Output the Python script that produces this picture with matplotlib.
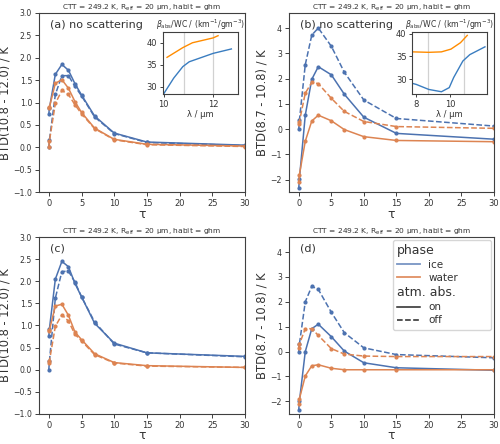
import matplotlib
matplotlib.use("Agg")
import matplotlib.pyplot as plt
from matplotlib.lines import Line2D

# optical depth grids
tau_ac = [0, 0.1, 1, 2, 3, 4, 5, 7, 10, 15, 30]
tau_bd = [0, 0.1, 1, 2, 3, 5, 7, 10, 15, 30]

# (a) BTD(10.8 - 12.0), no scattering
a_ice_on = [0.75, 0.88, 1.63, 1.85, 1.72, 1.42, 1.17, 0.70, 0.32, 0.12, 0.05]
a_ice_off = [0.0, 0.17, 1.18, 1.60, 1.60, 1.36, 1.15, 0.68, 0.31, 0.11, 0.04]
a_wat_on = [0.87, 0.90, 1.43, 1.51, 1.32, 1.02, 0.78, 0.43, 0.18, 0.07, 0.03]
a_wat_off = [0.0, 0.15, 0.98, 1.27, 1.18, 0.95, 0.75, 0.42, 0.17, 0.06, 0.02]

# (b) BTD(8.7 - 10.8), no scattering
b_ice_on = [-2.33, -1.97, 0.55, 1.97, 2.47, 2.15, 1.38, 0.47, -0.17, -0.40]
b_ice_off = [0.0, 0.35, 2.55, 3.72, 4.00, 3.28, 2.25, 1.15, 0.42, 0.12]
b_wat_on = [-2.10, -1.80, -0.48, 0.32, 0.55, 0.33, -0.02, -0.30, -0.45, -0.50]
b_wat_off = [0.20, 0.30, 1.42, 1.85, 1.80, 1.22, 0.70, 0.30, 0.10, 0.03]

# (c) BTD(10.8 - 12.0), with scattering
c_ice_on = [0.75, 0.93, 2.05, 2.45, 2.33, 1.95, 1.65, 1.05, 0.60, 0.38, 0.30]
c_ice_off = [0.0, 0.20, 1.62, 2.22, 2.23, 1.98, 1.65, 1.08, 0.58, 0.38, 0.29]
c_wat_on = [0.88, 0.90, 1.44, 1.48, 1.23, 0.85, 0.68, 0.36, 0.16, 0.09, 0.05]
c_wat_off = [0.15, 0.20, 0.98, 1.24, 1.10, 0.80, 0.65, 0.34, 0.15, 0.08, 0.05]

# (d) BTD(8.7 - 10.8), with scattering
d_ice_on = [-2.33, -2.00, 0.0, 0.92, 1.10, 0.60, 0.02, -0.45, -0.65, -0.75]
d_ice_off = [0.0, 0.30, 2.00, 2.62, 2.50, 1.58, 0.76, 0.15, -0.12, -0.25]
d_wat_on = [-2.10, -1.90, -0.98, -0.57, -0.53, -0.67, -0.73, -0.73, -0.73, -0.73]
d_wat_off = [0.15, 0.30, 0.92, 0.92, 0.65, 0.12, -0.10, -0.18, -0.20, -0.20]

# insets: absorption coefficient per water content
ia_ice_wl = [10.0, 10.4, 10.77, 11.03, 12.0, 12.74]
ia_ice_val = [28.5, 32.0, 34.6, 35.7, 37.6, 38.6]
ia_wat_wl = [10.13, 10.77, 11.16, 12.0, 12.2]
ia_wat_val = [36.7, 38.9, 40.0, 41.1, 41.6]

ib_ice_wl = [7.8, 8.0, 8.74, 9.48, 9.94, 10.2, 10.74, 11.15, 12.04]
ib_ice_val = [29.1, 28.9, 27.8, 27.3, 28.2, 30.4, 34.0, 35.4, 37.1]
ib_wat_wl = [7.8, 8.74, 9.48, 10.04, 10.6, 11.0]
ib_wat_val = [36.0, 35.9, 36.0, 36.6, 38.0, 39.6]

title = "CTT = 249.2 K, R$_{\\mathrm{eff}}$ = 20 μm, habit = ghm"
c_ice = "#4c72b0"
c_wat = "#dd8452"
txt_col = "0.2"

plt.rcParams.update({
    "font.family": "DejaVu Sans",
    "axes.edgecolor": "0.25",
    "axes.linewidth": 0.8,
    "xtick.color": "0.25",
    "ytick.color": "0.25",
    "xtick.labelcolor": txt_col,
    "ytick.labelcolor": txt_col,
    "xtick.labelsize": 6,
    "ytick.labelsize": 5.6,
    "xtick.major.size": 3,
    "ytick.major.size": 3,
    "xtick.major.pad": 2,
    "ytick.major.pad": 2,
    "xtick.major.width": 0.7,
    "ytick.major.width": 0.7,
})

fig = plt.figure(figsize=(5, 4.44), dpi=100)
pos = {
    "a": [0.078, 0.567, 0.412, 0.404],
    "b": [0.578, 0.567, 0.410, 0.404],
    "c": [0.078, 0.068, 0.412, 0.398],
    "d": [0.578, 0.068, 0.410, 0.398],
}


def draw_panel(ax, tau, ice_on, ice_off, wat_on, wat_off):
    kw = dict(marker=".", markersize=4, lw=1.1)
    ax.plot(tau, ice_on, color=c_ice, ls="-", **kw)
    ax.plot(tau, ice_off, color=c_ice, ls="--", **kw)
    ax.plot(tau, wat_on, color=c_wat, ls="-", **kw)
    ax.plot(tau, wat_off, color=c_wat, ls="--", **kw)
    ax.set_xlim(-1.5, 30)
    ax.set_xticks([0, 5, 10, 15, 20, 25, 30])
    ax.set_xlabel("τ", fontsize=9, color=txt_col, labelpad=-0.5)
    ax.set_title(title, fontsize=5.4, color=txt_col, pad=1.5)


ax_a = fig.add_axes(pos["a"])
draw_panel(ax_a, tau_ac, a_ice_on, a_ice_off, a_wat_on, a_wat_off)
ax_b = fig.add_axes(pos["b"])
draw_panel(ax_b, tau_bd, b_ice_on, b_ice_off, b_wat_on, b_wat_off)
ax_c = fig.add_axes(pos["c"])
draw_panel(ax_c, tau_ac, c_ice_on, c_ice_off, c_wat_on, c_wat_off)
ax_d = fig.add_axes(pos["d"])
draw_panel(ax_d, tau_bd, d_ice_on, d_ice_off, d_wat_on, d_wat_off)

for ax in (ax_a, ax_c):
    ax.set_ylim(-1, 3)
    ax.set_yticks([-1.0, -0.5, 0.0, 0.5, 1.0, 1.5, 2.0, 2.5, 3.0])
    ax.set_yticklabels(["−1.0", "−0.5", "0.0", "0.5", "1.0", "1.5", "2.0", "2.5", "3.0"])
    ax.set_ylabel("BTD(10.8 - 12.0) / K", fontsize=8.3, color=txt_col, labelpad=1)
for ax in (ax_b, ax_d):
    ax.set_ylim(-2.5, 4.6)
    ax.set_yticks([-2, -1, 0, 1, 2, 3, 4])
    ax.set_yticklabels(["−2", "−1", "0", "1", "2", "3", "4"])
    ax.set_ylabel("BTD(8.7 - 10.8) / K", fontsize=8.3, color=txt_col, labelpad=1.5)

ax_a.text(0.055, 0.935, "(a) no scattering", transform=ax_a.transAxes,
          fontsize=8, color=txt_col, va="center")
ax_b.text(0.055, 0.935, "(b) no scattering", transform=ax_b.transAxes,
          fontsize=8, color=txt_col, va="center")
ax_c.text(0.055, 0.935, "(c)", transform=ax_c.transAxes,
          fontsize=8, color=txt_col, va="center")
ax_d.text(0.055, 0.935, "(d)", transform=ax_d.transAxes,
          fontsize=8, color=txt_col, va="center")


def draw_inset(ax, ice_wl, ice_val, wat_wl, wat_val, vlines, xlim, ylim, xticks):
    ins = ax.inset_axes([0.6, 0.545, 0.365, 0.35])
    for v in vlines:
        ins.axvline(v, color="0.82", lw=0.9)
    ins.plot(wat_wl, wat_val, color="#ff8c00", lw=1.0)
    ins.plot(ice_wl, ice_val, color="#3a7dc0", lw=1.0)
    ins.set_xlim(*xlim)
    ins.set_ylim(*ylim)
    ins.set_xticks(xticks)
    ins.set_yticks([30, 35, 40])
    ins.tick_params(labelsize=6, length=2.5, pad=1.5)
    ins.set_xlabel("λ / μm", fontsize=6, color=txt_col, labelpad=1)
    ins.set_title("$\\beta_{\\mathrm{abs}}$/WC / (km$^{-1}$/gm$^{-3}$)",
                  fontsize=5.6, color=txt_col, pad=2)
    return ins


draw_inset(ax_a, ia_ice_wl, ia_ice_val, ia_wat_wl, ia_wat_val,
           [10.8, 12.0], (9.95, 13.0), (28.3, 42.5), [10, 12])
draw_inset(ax_b, ib_ice_wl, ib_ice_val, ib_wat_wl, ib_wat_val,
           [8.7, 10.8], (7.75, 12.15), (26.7, 40.4), [8, 10])

# legend for panel (d)
handles = [
    Line2D([], [], color="none"),
    Line2D([], [], color=c_ice, alpha=0.75, lw=1.3),
    Line2D([], [], color=c_wat, alpha=0.9, lw=1.3),
    Line2D([], [], color="none"),
    Line2D([], [], color="0.15", lw=1.1, ls="-"),
    Line2D([], [], color="0.15", lw=1.1, ls="--"),
]
labels = ["phase", "ice", "water", "atm. abs.", "on", "off"]
leg = ax_d.legend(handles, labels, loc="upper right", fontsize=7.5,
                  labelspacing=0.3, handlelength=2.2, handletextpad=0.8,
                  borderaxespad=0.25, borderpad=0.4, frameon=True,
                  fancybox=True, edgecolor="0.8", labelcolor=txt_col)
shift = (2.2 + 0.8) * 7.5 * 100 / 72.0
for i in (0, 3):
    t = leg.get_texts()[i]
    t.set_fontsize(9)
    t.set_position((-shift, 0))

fig.savefig("out.png", dpi=100)
